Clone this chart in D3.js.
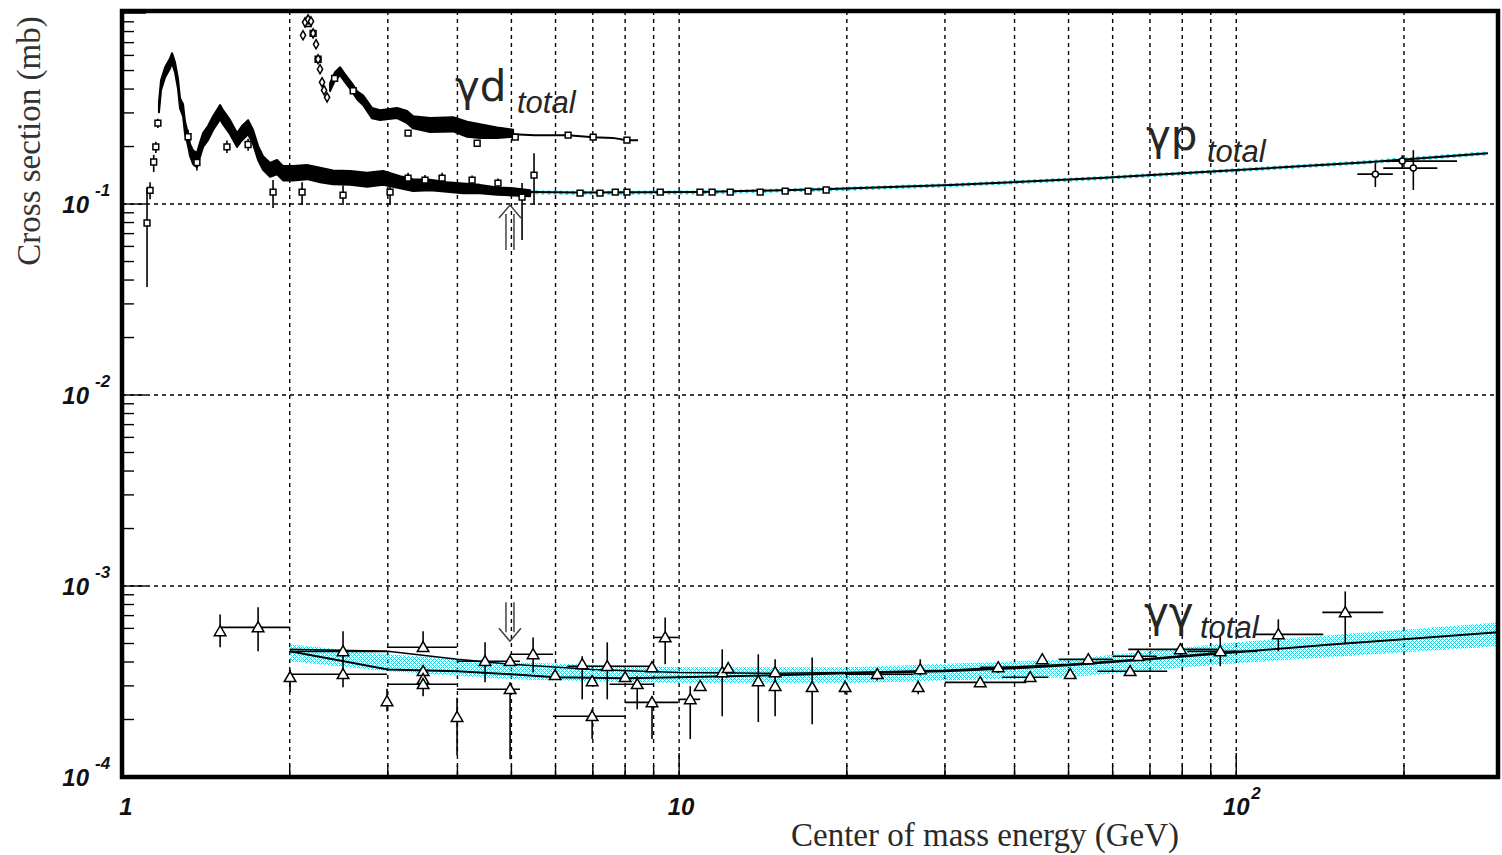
<!DOCTYPE html>
<html>
<head>
<meta charset="utf-8">
<script src="https://cdn.jsdelivr.net/npm/d3@7"></script>
<style>
  body { margin: 0; background: #fff; }
  svg { display: block; }
</style>
</head>
<body>
<div id="chart"></div>
<script>
// ---------------- data: W (GeV), sigma (mb) ----------------
// gamma-p, threshold points: [W, sigma, sigmaLo, sigmaHi]
const gpEdge = [
  [1.109, 0.0796, 0.0368, 0.1213],
  [1.123, 0.118, 0.106, 0.130],
  [1.140, 0.166, 0.147, 0.181],
  [1.150, 0.199, 0.185, 0.212],
  [1.160, 0.265, 0.250, 0.280]
];
// gamma-p, dense resonance region (overlapping points): [W, sigmaLo, sigmaHi]
const gpBand = [
  [1.165, 0.302, 0.341], [1.175, 0.395, 0.445], [1.195, 0.461, 0.520], [1.220, 0.514, 0.580],
  [1.230, 0.546, 0.616], [1.245, 0.490, 0.552], [1.260, 0.404, 0.456], [1.271, 0.317, 0.358],
  [1.287, 0.288, 0.333], [1.297, 0.235, 0.272], [1.314, 0.201, 0.232], [1.325, 0.178, 0.206],
  [1.341, 0.162, 0.191], [1.363, 0.156, 0.185], [1.380, 0.176, 0.209], [1.398, 0.199, 0.235],
  [1.427, 0.216, 0.256], [1.457, 0.244, 0.288], [1.500, 0.278, 0.330], [1.518, 0.262, 0.310],
  [1.563, 0.232, 0.275], [1.609, 0.199, 0.235], [1.642, 0.216, 0.256], [1.684, 0.232, 0.275],
  [1.719, 0.206, 0.244], [1.755, 0.170, 0.201], [1.791, 0.151, 0.178], [1.844, 0.139, 0.164],
  [1.898, 0.143, 0.170], [1.946, 0.133, 0.158], [2.028, 0.133, 0.158], [2.148, 0.135, 0.160],
  [2.267, 0.130, 0.155], [2.392, 0.127, 0.150], [2.567, 0.126, 0.149], [2.754, 0.123, 0.146],
  [2.942, 0.126, 0.149], [3.156, 0.121, 0.140], [3.331, 0.117, 0.135], [3.573, 0.118, 0.134],
  [3.832, 0.116, 0.130], [4.095, 0.114, 0.128], [4.392, 0.114, 0.126], [4.713, 0.112, 0.122],
  [5.035, 0.111, 0.121], [5.402, 0.110, 0.118]
];
// gamma-p, isolated points with errors: [W, sigma, sigmaLo, sigmaHi]
const gpScatter = [
  [1.314, 0.225, 0.205, 0.245], [1.363, 0.165, 0.150, 0.180], [1.543, 0.199, 0.185, 0.215],
  [1.684, 0.205, 0.190, 0.220], [1.867, 0.1155, 0.0953, 0.1335], [2.105, 0.1155, 0.0988, 0.130],
  [2.493, 0.1114, 0.0988, 0.125], [3.028, 0.1155, 0.0988, 0.1288], [3.262, 0.1368, 0.128, 0.146],
  [3.499, 0.1335, 0.125, 0.142], [3.754, 0.1368, 0.128, 0.146], [4.25, 0.1335, 0.126, 0.141],
  [4.73, 0.1288, 0.122, 0.136], [5.49, 0.1418, 0.0988, 0.1847], [5.225, 0.1088, 0.0648, 0.1288]
];
// gamma-p, points along the fit above 6 GeV
const gpTail = [
  [6.64, 0.1141], [7.21, 0.1141], [7.68, 0.1155], [8.06, 0.1155], [9.25, 0.1155],
  [10.9, 0.1155], [11.46, 0.1155], [12.35, 0.1155], [13.98, 0.1155], [15.5, 0.1169],
  [17.04, 0.1169], [18.36, 0.1184]
];
// gamma-p, high-energy points: [W, sigma, WLo, WHi, sigmaLo, sigmaHi]
const gpHigh = [
  [177.7, 0.1434, 165, 191, 0.1227, 0.1636],
  [207.9, 0.1542, 183.6, 229.6, 0.1184, 0.1915],
  [198.6, 0.1678, 185, 249, 0.154, 0.180]
];
// gamma-p fit and its band
const gpFit = [
  [4.8, 0.1160], [6.6, 0.1148], [10.9, 0.1155], [18.7, 0.1198], [30.7, 0.1257],
  [57, 0.1368], [98.8, 0.1504], [172, 0.1656], [283, 0.1845]
];
const gpCyan = [
  [4.0, 0.118], [5.0, 0.1155], [6.6, 0.1145], [10.9, 0.115],
  [18.7, 0.1195], [30.7, 0.1255], [57, 0.1365], [98.8, 0.150], [172, 0.1656], [283, 0.1845]
];

// gamma-d
const gdPeak = [
  [2.113, 0.765], [2.131, 0.894], [2.158, 0.927], [2.184, 0.905], [2.203, 0.783],
  [2.230, 0.686], [2.249, 0.573], [2.267, 0.508], [2.286, 0.434], [2.305, 0.394], [2.334, 0.362]
];
// [W, sigmaLo, sigmaHi]
const gdBand = [
  [2.363, 0.390, 0.429], [2.412, 0.445, 0.490], [2.463, 0.473, 0.520], [2.514, 0.435, 0.478],
  [2.587, 0.390, 0.429], [2.642, 0.354, 0.389], [2.708, 0.330, 0.371], [2.765, 0.302, 0.341],
  [2.811, 0.281, 0.318], [2.905, 0.275, 0.310], [3.117, 0.282, 0.318], [3.249, 0.265, 0.307],
  [3.331, 0.249, 0.288], [3.573, 0.238, 0.282], [3.93, 0.240, 0.285], [4.163, 0.225, 0.270],
  [4.392, 0.222, 0.262], [4.713, 0.222, 0.252], [5.035, 0.225, 0.245]
];
const gdTail = [
  [5.035, 0.232], [5.5, 0.229], [6.32, 0.2295], [7.01, 0.224], [7.6, 0.222], [8.06, 0.216], [8.44, 0.216]
];
const gdSquares = [
  [2.158, 0.880], [2.203, 0.783], [2.249, 0.573], [2.408, 0.455], [2.6, 0.392],
  [3.262, 0.235], [4.34, 0.208], [5.08, 0.224], [6.32, 0.2295], [7.01, 0.224], [8.06, 0.216]
];

// gamma-gamma: [W, sigma, sigmaLo, sigmaHi, WLo, WHi]
const ggPts = [
  [1.500, 5.79e-4, 4.78e-4, 7.10e-4, null, null],
  [1.755, 6.07e-4, 4.55e-4, 7.73e-4, 1.50, 2.00],
  [2.003, 3.33e-4, 2.78e-4, 3.66e-4, null, null],
  [2.493, 3.45e-4, 2.95e-4, 3.80e-4, 2.00, 2.99],
  [2.493, 4.55e-4, 3.80e-4, 5.79e-4, 2.00, 2.99],
  [2.990, 2.49e-4, 2.20e-4, 2.90e-4, null, null],
  [3.471, 4.78e-4, 4.66e-4, 5.79e-4, 2.99, 3.99],
  [3.471, 3.58e-4, 2.65e-4, 3.80e-4, null, null],
  [3.471, 3.25e-4, null, null, null, null],
  [3.471, 3.06e-4, null, null, 2.99, 3.99],
  [3.994, 2.06e-4, 1.30e-4, 2.60e-4, null, null],
  [4.484, 4.04e-4, 3.13e-4, 5.07e-4, 3.99, 5.18],
  [4.973, 4.04e-4, null, null, null, null],
  [4.973, 2.88e-4, 1.24e-4, 3.13e-4, 3.99, 5.18],
  [5.469, 4.39e-4, 3.53e-4, 5.38e-4, 4.97, 5.94],
  [5.99, 3.41e-4, null, null, null, null],
  [6.70, 3.89e-4, 2.55e-4, 4.29e-4, null, null],
  [6.98, 3.17e-4, null, null, null, null],
  [6.98, 2.08e-4, 1.58e-4, 2.26e-4, 5.94, 8.00],
  [7.43, 3.80e-4, 2.55e-4, 5.07e-4, 6.3, 8.9],
  [8.00, 3.33e-4, null, null, null, null],
  [8.41, 3.06e-4, 2.26e-4, 3.37e-4, 7.5, 9.0],
  [8.94, 2.46e-4, 1.58e-4, 2.65e-4, 8.00, 9.96],
  [8.94, 3.75e-4, null, null, null, null],
  [9.44, 5.38e-4, 3.89e-4, 6.85e-4, 8.98, 9.96],
  [10.47, 2.55e-4, 1.58e-4, 2.99e-4, 9.96, 10.91],
  [10.91, 2.99e-4, null, null, null, null],
  [11.95, 3.53e-4, 2.08e-4, 4.66e-4, null, null],
  [12.25, 3.71e-4, null, null, null, null],
  [13.87, 3.17e-4, 1.94e-4, 4.39e-4, null, null],
  [14.87, 3.53e-4, 2.08e-4, 4.13e-4, null, null],
  [14.87, 2.99e-4, null, null, null, null],
  [17.33, 2.95e-4, 1.89e-4, 4.23e-4, null, null],
  [19.86, 2.95e-4, 2.70e-4, 3.20e-4, null, null],
  [22.68, 3.45e-4, 3.20e-4, 3.70e-4, 19.86, 26.31],
  [27.09, 3.66e-4, 3.40e-4, 4.13e-4, null, null],
  [26.86, 2.95e-4, 2.71e-4, 3.20e-4, null, null],
  [34.71, 3.13e-4, null, null, 30, 42],
  [37.39, 3.75e-4, 3.50e-4, 3.90e-4, 34.7, 42.7],
  [42.67, 3.33e-4, null, null, 38, 46],
  [44.85, 4.13e-4, 3.90e-4, 4.35e-4, null, null],
  [50.35, 3.45e-4, null, null, null, null],
  [54.25, 4.13e-4, null, null, 48, 60],
  [64.5, 3.58e-4, null, null, 56.3, 75.2],
  [66.7, 4.29e-4, null, null, 60, 72],
  [79.4, 4.66e-4, 4.30e-4, 5.00e-4, 64.0, 92.5],
  [93.6, 4.55e-4, 3.80e-4, 5.45e-4, 81.7, 109.1],
  [119.0, 5.58e-4, 4.55e-4, 6.69e-4, 107.3, 143.3],
  [156.9, 7.28e-4, 4.95e-4, 9.37e-4, 142.7, 183.6]
];
const ggFitA = [
  [2.0, 4.55e-4], [2.5, 4.04e-4], [3.0, 3.66e-4], [4.0, 3.58e-4], [5.0, 3.45e-4],
  [6.0, 3.33e-4], [8.0, 3.29e-4], [10, 3.33e-4], [15, 3.41e-4], [20, 3.49e-4],
  [30, 3.58e-4], [40, 3.71e-4], [50, 3.85e-4], [70, 4.13e-4], [100, 4.50e-4],
  [150, 4.95e-4], [200, 5.26e-4], [295, 5.72e-4]
];
const ggFitB = [
  [2.0, 4.66e-4], [3.0, 4.55e-4], [4.0, 4.13e-4], [5.0, 3.89e-4], [7.0, 3.66e-4],
  [10, 3.53e-4], [15, 3.49e-4], [20, 3.53e-4], [30, 3.62e-4], [50, 3.89e-4],
  [70, 4.17e-4], [100, 4.55e-4]
];
// band: [W, sigmaLo, sigmaHi]
const ggBand = [
  [2.0, 4.04e-4, 4.95e-4], [3.0, 3.58e-4, 4.39e-4], [5.0, 3.25e-4, 3.99e-4],
  [10, 3.10e-4, 3.75e-4], [20, 3.10e-4, 3.75e-4], [50, 3.33e-4, 4.13e-4],
  [100, 3.94e-4, 5.07e-4], [295, 4.83e-4, 6.45e-4]
];
// arrows at 5 GeV: [W, tip sigma, tail sigma]
const gpArrow = [4.97, 0.0988, 0.0575];
const ggArrow = [4.97, 5.14e-4, 8.21e-4];

const xMajor = [1, 10, 100];
const yMajor = [-1, -2, -3, -4];

// ---------------- chart ----------------
const width = 1502, height = 855;
const svg = d3.select('#chart').append('svg')
  .attr('width', width).attr('height', height)
  .style('font-family', '"Liberation Sans", Arial, sans-serif');

const x = d3.scaleLog().domain([1, 295]).range([122, 1498]);
const y = d3.scaleLog().domain([1e-4, 1.025]).range([777, 11]);
const yTop = y.range()[1], yBot = y.range()[0], xLeft = x.range()[0], xRight = x.range()[1];

const defs = svg.append('defs');
const pat = defs.append('pattern').attr('id', 'hatch')
  .attr('patternUnits', 'userSpaceOnUse').attr('width', 4).attr('height', 4);
pat.append('path').attr('d', 'M0,0h1v1h-1z M2,2h1v1h-1z M1,1h1v1h-1z M3,3h1v1h-1z M3,1h1v1h-1z M1,3h1v1h-1z')
  .attr('fill', '#00e4f4').attr('shape-rendering', 'crispEdges');

// grid
const isMajor = v => Math.abs(Math.log10(v) - Math.round(Math.log10(v))) < 1e-6;
const grid = svg.append('g').attr('stroke', '#000').attr('stroke-width', 1.4);
x.ticks().filter(v => v > 1).forEach(v => {
  grid.append('line').attr('x1', x(v)).attr('x2', x(v)).attr('y1', yTop).attr('y2', yBot)
    .attr('stroke-dasharray', '4,4');
  grid.append('line').attr('x1', x(v)).attr('x2', x(v)).attr('y1', yBot)
    .attr('y2', yBot - (isMajor(v) ? 24 : 12));
});
y.ticks().forEach(v => {
  if (isMajor(v) && v > 1e-4 && v < 1) {
    grid.append('line').attr('x1', xLeft).attr('x2', xRight).attr('y1', y(v)).attr('y2', y(v))
      .attr('stroke-dasharray', '4,4');
  }
  if (v < 1.02) {
    grid.append('line').attr('x1', xLeft).attr('x2', xLeft + (isMajor(v) ? 24 : 12))
      .attr('y1', y(v)).attr('y2', y(v));
  }
});

const line = d3.line().x(d => x(d[0])).y(d => y(d[1]));
const band = d3.area().x(d => x(d[0])).y0(d => y(d[1])).y1(d => y(d[2]));
const sq = d3.symbol().type(d3.symbolSquare).size(34);
const tri = d3.symbol().type(d3.symbolTriangle).size(58);

// gamma-gamma band
svg.append('path').attr('d', band(ggBand)).attr('fill', 'url(#hatch)');

// gamma-p cyan band and fit
svg.append('path').attr('d', line(gpCyan)).attr('fill', 'none')
  .attr('stroke', '#00e4f4').attr('stroke-width', 4).attr('stroke-dasharray', '3,3');
svg.append('path').attr('d', line(gpFit)).attr('fill', 'none')
  .attr('stroke', '#000').attr('stroke-width', 2);

// gamma-gamma fits
svg.append('path').attr('d', line(ggFitA)).attr('fill', 'none')
  .attr('stroke', '#000').attr('stroke-width', 2);
svg.append('path').attr('d', line(ggFitB)).attr('fill', 'none')
  .attr('stroke', '#000').attr('stroke-width', 1.5);

// dense clouds of points
[gpBand, gdBand].forEach(data => {
  svg.append('path').attr('d', band(data)).attr('fill', '#000')
    .attr('stroke', '#000').attr('stroke-width', 2).attr('stroke-linejoin', 'round');
});
svg.append('path').attr('d', line(gdTail)).attr('fill', 'none')
  .attr('stroke', '#000').attr('stroke-width', 2);

// error bars
const eb = svg.append('g').attr('stroke', '#000').attr('stroke-width', 1.6);
[...gpEdge, ...gpScatter].forEach(d => {
  eb.append('line').attr('x1', x(d[0])).attr('x2', x(d[0])).attr('y1', y(d[2])).attr('y2', y(d[3]));
});
gpHigh.forEach(d => {
  eb.append('line').attr('x1', x(d[2])).attr('x2', x(d[3])).attr('y1', y(d[1])).attr('y2', y(d[1]));
  eb.append('line').attr('x1', x(d[0])).attr('x2', x(d[0])).attr('y1', y(d[4])).attr('y2', y(d[5]));
});
ggPts.forEach(d => {
  if (d[2] !== null) eb.append('line').attr('x1', x(d[0])).attr('x2', x(d[0])).attr('y1', y(d[2])).attr('y2', y(d[3]));
  if (d[4] !== null) eb.append('line').attr('x1', x(d[4])).attr('x2', x(d[5])).attr('y1', y(d[1])).attr('y2', y(d[1]));
});

// markers
const mk = svg.append('g').attr('fill', '#fff').attr('stroke', '#000').attr('stroke-width', 1.5);
[...gpEdge, ...gpScatter, ...gpTail, ...gdSquares].forEach(d => {
  mk.append('path').attr('d', sq).attr('transform', `translate(${x(d[0])},${y(d[1])})`);
});
gdPeak.forEach(d => {
  mk.append('path').attr('d', d3.symbol().type(d3.symbolDiamond).size(24))
    .attr('transform', `translate(${x(d[0])},${y(d[1])})`);
});
gpHigh.forEach(d => {
  mk.append('circle').attr('cx', x(d[0])).attr('cy', y(d[1])).attr('r', 3);
});
ggPts.forEach(d => {
  mk.append('path').attr('d', tri).attr('transform', `translate(${x(d[0])},${y(d[1]) + 1})`);
});

// arrows at 5 GeV
function arrow([w, tip, tail]) {
  const cx = x(w), ty = y(tip), by = y(tail), s = by > ty ? 1 : -1;
  const g = svg.append('g').attr('fill', 'none').attr('stroke', '#444').attr('stroke-width', 1.5);
  g.append('path').attr('d', `M${cx - 4},${ty + s * 9}V${by}M${cx + 4},${ty + s * 9}V${by}`);
  g.append('path').attr('d', `M${cx - 11},${ty + s * 13}L${cx},${ty}L${cx + 11},${ty + s * 13}`);
}
arrow(gpArrow);
arrow(ggArrow);

// frame
svg.append('rect').attr('x', xLeft).attr('y', yTop).attr('width', xRight - xLeft).attr('height', yBot - yTop)
  .attr('fill', 'none').attr('stroke', '#000').attr('stroke-width', 4.5);

// tick labels
const tl = svg.append('g').attr('fill', '#111').attr('font-weight', 'bold').attr('font-style', 'italic');
yMajor.forEach(k => {
  const yy = y(Math.pow(10, k));
  tl.append('text').attr('x', 89).attr('y', yy + 9).attr('text-anchor', 'end')
    .attr('font-size', 24).text('10');
  tl.append('text').attr('x', 95).attr('y', yy - 8).attr('font-size', 17).text(String(k));
});
xMajor.forEach(v => {
  const xx = x(v), e = Math.round(Math.log10(v));
  if (e < 2) {
    tl.append('text').attr('x', xx + (e === 0 ? 4 : 2)).attr('y', 815).attr('text-anchor', 'middle')
      .attr('font-size', 24).text(String(v));
  } else {
    tl.append('text').attr('x', xx).attr('y', 815).attr('text-anchor', 'middle')
      .attr('font-size', 24).text('10');
    tl.append('text').attr('x', xx + 15).attr('y', 799).attr('font-size', 17).text(String(e));
  }
});

// axis titles
svg.append('text').attr('x', 985).attr('y', 846).attr('text-anchor', 'middle')
  .attr('font-family', '"Liberation Serif", "Times New Roman", serif')
  .attr('font-size', 33).attr('fill', '#2a2a2a').text('Center of mass energy (GeV)');
svg.append('text').attr('transform', 'translate(40,141) rotate(-90)').attr('text-anchor', 'middle')
  .attr('font-family', '"Liberation Serif", "Times New Roman", serif')
  .attr('font-size', 33).attr('fill', '#333').text('Cross section (mb)');

// process labels
const lab = svg.append('g').attr('fill', '#262626');
function procLabel(px, py, name, sx, sy) {
  lab.append('text').attr('x', px).attr('y', py).attr('font-size', 42)
    .attr('font-family', '"DejaVu Sans", sans-serif').text(name);
  lab.append('text').attr('x', sx).attr('y', sy).attr('font-size', 31)
    .attr('font-style', 'italic').text('total');
}
procLabel(455, 101, 'γd', 517, 113);
procLabel(1146, 150, 'γp', 1207, 162);
procLabel(1144, 627, 'γγ', 1200, 638);
</script>
</body>
</html>
